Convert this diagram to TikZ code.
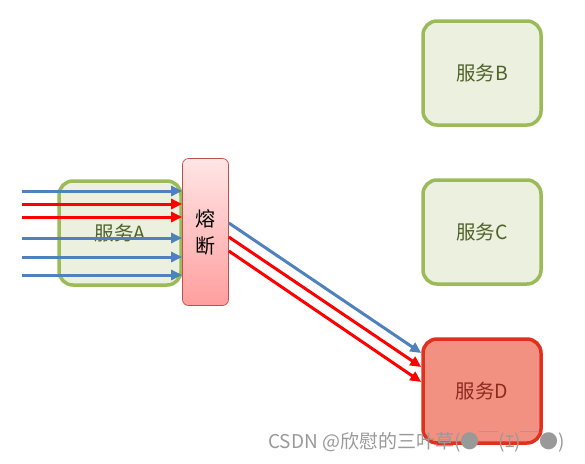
\documentclass[tikz,border=0pt]{standalone}
\usepackage{fontspec}
\setmainfont{Carlito}
\newfontfamily\cjk{Noto Sans CJK SC}
\usetikzlibrary{arrows.meta,calc}
\definecolor{gborder}{HTML}{9BBB59}
\definecolor{gfill}{HTML}{EBF1DE}
\definecolor{gtext}{HTML}{4F6228}
\definecolor{rborder}{HTML}{E0301E}
\definecolor{rfill}{HTML}{F29182}
\definecolor{rtext}{HTML}{8B2A1E}
\definecolor{ablue}{HTML}{4F81BD}
\definecolor{ared}{HTML}{FF0000}
\definecolor{fborder}{HTML}{C0504D}
\tikzset{
  svc/.style={draw=gborder, fill=gfill, line width=3.5pt, rounded corners=14pt,
    minimum width=118pt, minimum height=104pt, inner sep=0pt, text=gtext,
    font=\cjk\fontsize{19.5}{22}\selectfont},
  svcbad/.style={svc, draw=rborder, fill=rfill, text=rtext},
  fusebox/.style={draw=fborder, line width=0.7pt, rounded corners=6pt,
    top color=red!10, bottom color=red!38, minimum width=46pt, minimum height=147pt,
    inner sep=0pt, font=\cjk\fontsize{20}{27}\selectfont, align=center},
  bl/.style={draw=ablue, line width=3pt, -{Triangle[length=11pt,width=10pt]}},
  rd/.style={draw=ared, line width=3pt, -{Triangle[length=11pt,width=10pt]}},
  wm/.style={text=black!40, font=\cjk\fontsize{19}{21}\selectfont, inner sep=0pt, anchor=west}
}
\begin{document}
\begin{tikzpicture}[x=1pt,y=-1pt]
\useasboundingbox (0,0) rectangle (585,463);
\node[svc, minimum width=122pt] (A) at (120,233) {服务A};
\node[svc] (B) at (482,73) {服务B};
\node[svc] (C) at (482,232) {服务C};
\node[svcbad] (D) at (482,391) {服务D};
\node[fusebox] (F) at (205.5,232) {熔\\断};
\coordinate (s1) at (22,191);
\coordinate (s2) at (22,204);
\coordinate (s3) at (22,217);
\coordinate (s4) at (22,238);
\coordinate (s5) at (22,257);
\coordinate (s6) at (22,275);
\draw[bl] (s1) -- (s1 -| F.west);
\draw[rd] (s2) -- (s2 -| F.west);
\draw[rd] (s3) -- (s3 -| F.west);
\draw[bl] (s4) -- (s4 -| F.west);
\draw[bl] (s5) -- (s5 -| F.west);
\draw[bl] (s6) -- (s6 -| F.west);
\draw[bl] (F.east |- 0,223) -- (D.west |- 0,353);
\draw[rd] (F.east |- 0,237) -- (D.west |- 0,367);
\draw[rd] (F.east |- 0,251) -- (D.west |- 0,382);
\node[wm] (W) at (268,442) {CSDN @欣慰的三叶草(●￣(ｴ)￣●)};
\end{tikzpicture}
\end{document}
